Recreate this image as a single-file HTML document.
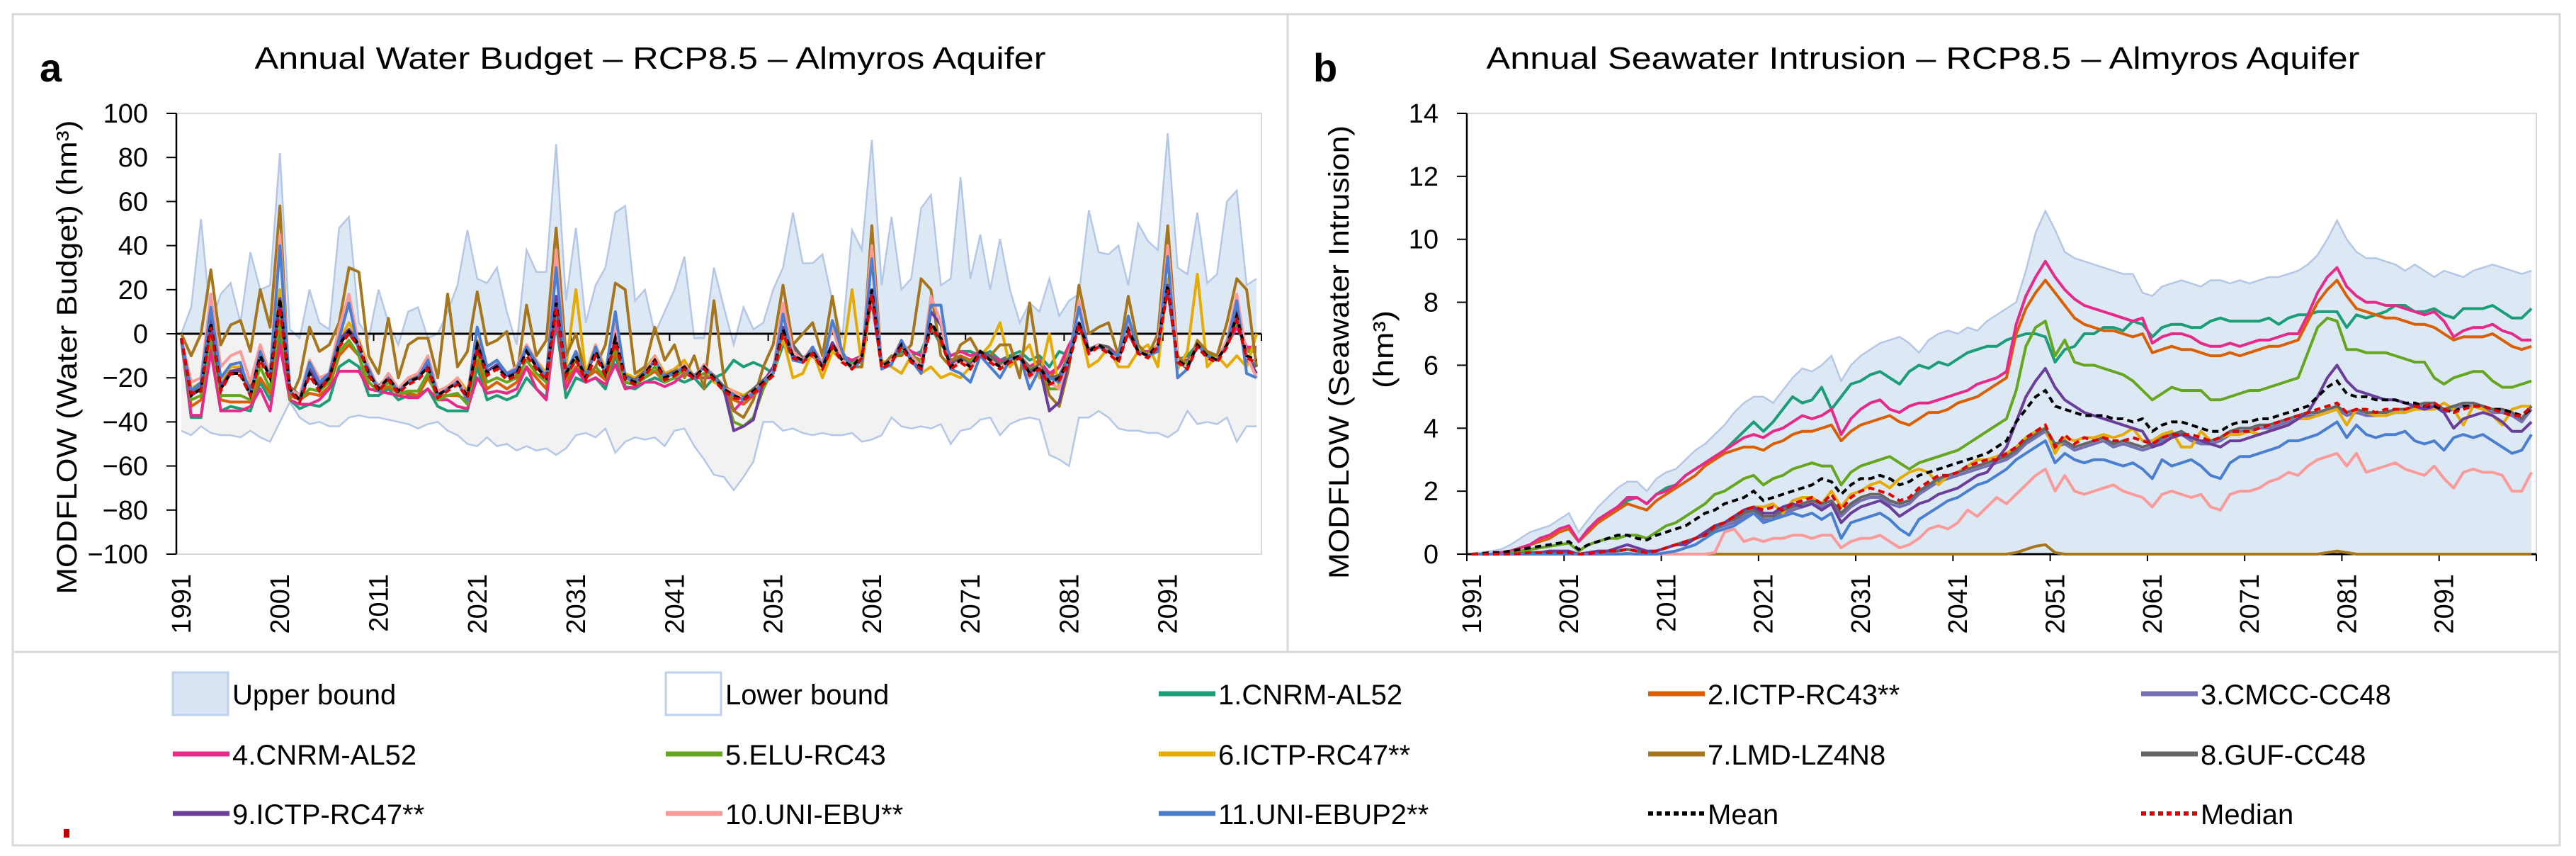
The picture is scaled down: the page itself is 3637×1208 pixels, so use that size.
<!DOCTYPE html>
<html><head><meta charset="utf-8"><title>Almyros Aquifer RCP8.5</title>
<style>html,body{margin:0;padding:0;background:#fff;}svg{display:block;}text{font-family:"Liberation Sans",sans-serif;fill:#000;}</style>
</head><body>
<svg id="fig" xmlns="http://www.w3.org/2000/svg" width="3637" height="1208" viewBox="0 0 3637 1208">
<rect x="0" y="0" width="3637" height="1208" fill="#fff"/>
<rect x="18" y="20" width="3596" height="1173" fill="none" stroke="#d9d9d9" stroke-width="3"/>
<line x1="1818" y1="20" x2="1818" y2="920" stroke="#d9d9d9" stroke-width="3"/>
<line x1="18" y1="920" x2="3614" y2="920" stroke="#d9d9d9" stroke-width="3"/>
<rect x="90" y="1170" width="8" height="12" fill="#c00000"/>
<g id="chartA"></g>
<g id="chartB"></g>
<g id="legend"></g>
</svg>
<script>
// ===== Chart A data: Annual Water Budget (hm3), 1991..2100 =====
const years = [];
for (let y = 1991; y <= 2100; y++) years.push(y);
const tickYears = [1991,2001,2011,2021,2031,2041,2051,2061,2071,2081,2091];
const yTicksA = [-100,-80,-60,-40,-20,0,20,40,60,80,100];
const yTicksB = [0,2,4,6,8,10,12,14];

const upperA = [0,12,52,5,18,23,5,37,20,22, 82,2,-2,20,5,2,48,53,5,-2, 20,5,-5,10,12,-2,0,10,22,47, 25,23,30,10,-5,38,28,28,86,15, 48,5,22,30,55,58,15,20,0,10, 20,35,-2,-2,30,12,-5,12,2,5, 20,30,55,32,32,36,15,-2,47,38, 88,22,53,20,25,57,63,22,25,71, 25,45,20,43,20,5,14,10,25,8, 15,18,56,37,36,40,22,50,42,38, 91,30,27,55,23,27,60,65,22,25];
const lowerA = [-44,-46,-42,-45,-46,-46,-47,-44,-47,-49, -40,-31,-38,-41,-40,-42,-42,-38,-37,-38, -38,-39,-40,-41,-43,-41,-40,-44,-46,-50, -51,-47,-51,-50,-53,-51,-53,-52,-55,-52, -46,-45,-47,-43,-54,-49,-47,-48,-47,-51, -44,-43,-51,-57,-64,-65,-71,-65,-58,-40, -40,-44,-43,-45,-46,-45,-46,-46,-45,-49, -48,-46,-38,-42,-43,-42,-43,-41,-50,-44, -43,-39,-38,-46,-41,-39,-38,-39,-55,-57, -60,-38,-38,-35,-38,-43,-44,-44,-45,-45, -47,-44,-35,-41,-40,-41,-38,-49,-42,-42];
const s1A = [-3,-38,-38,-5,-35,-33,-34,-35,-22,-30, 0,-30,-34,-32,-33,-30,-15,-12,-15,-28, -28,-25,-30,-28,-28,-25,-33,-35,-35,-35, -15,-30,-28,-30,-28,-20,-25,-29,5,-29, -20,-22,-20,-25,-10,-24,-25,-22,-20,-22, -20,-22,-20,-25,-20,-18,-12,-15,-13,-15, -18,-5,-10,-12,-10,-15,-8,-12,-13,-10, 15,-15,-12,-8,-10,-8,3,-5,-10,-8, -8,-10,-8,-12,-10,-8,-12,-10,-15,-8, -10,5,-8,-5,-8,-10,0,-8,-10,-5, 25,-12,-10,-5,-8,-10,-5,5,-8,-8];
const s2A = [-2,-33,-30,-2,-30,-31,-31,-31,-20,-27, 5,-28,-30,-27,-28,-24,-10,-5,-10,-25, -26,-24,-27,-27,-28,-20,-28,-28,-28,-30, -12,-25,-22,-25,-22,-15,-20,-25,10,-22, -15,-20,-17,-21,-8,-22,-23,-20,-17,-22, -20,-16,-20,-18,-20,-25,-30,-32,-28,-22, -17,0,-10,-12,-10,-15,-5,-12,-14,-10, 18,-15,-12,-6,-10,-12,3,-3,-12,-10, -12,-8,-10,-13,-12,-10,-16,-13,-20,-15, -8,4,-8,-5,-7,-10,1,-8,-9,-5, 22,-12,-13,-5,-9,-10,-5,5,-7,-7];
const s3A = [-2,-27,-23,5,-24,-17,-17,-26,-9,-19, 14,-24,-29,-17,-24,-19,-4,1,-6,-17, -24,-19,-25,-21,-19,-14,-27,-24,-21,-27, -5,-17,-14,-19,-17,-7,-14,-19,12,-17, -9,-19,-8,-17,-3,-19,-21,-17,-11,-19, -17,-15,-19,-15,-19,-24,-27,-29,-25,-21, -17,2,-6,-11,-8,-15,-5,-10,-16,-10, 19,-14,-12,-5,-12,-14,4,-2,-14,-11, -14,-8,-10,-14,-11,-10,-17,-14,-20,-19, -10,4,-7,-5,-6,-12,4,-8,-10,-5, 21,-12,-16,-5,-10,-12,-5,8,-12,-14];
const s4A = [-2,-37,-37,-8,-35,-35,-35,-33,-25,-35, -5,-30,-32,-32,-30,-25,-17,-17,-17,-25, -26,-27,-28,-29,-29,-25,-30,-30,-33,-34, -20,-27,-26,-27,-25,-15,-25,-30,8,-25, -16,-22,-20,-23,-14,-25,-24,-22,-22,-24, -22,-18,-20,-20,-20,-26,-35,-30,-28,-24, -15,-2,-10,-12,-10,-15,-5,-10,-12,-10, 15,-15,-12,-5,-8,-10,2,-2,-10,-8, -10,-8,-10,-12,-12,-10,-15,-12,-18,-15, -5,3,-7,-6,-6,-10,0,-8,-8,-6, 20,-12,-12,-6,-8,-10,-5,3,-6,-6];
const s5A = [-2,-30,-28,0,-28,-28,-28,-30,-15,-25, 8,-26,-30,-25,-26,-22,-8,-3,-10,-22, -26,-22,-27,-26,-26,-18,-30,-28,-27,-32, -8,-22,-20,-22,-20,-12,-18,-22,12,-20, -12,-20,-15,-20,-5,-22,-23,-20,-15,-22, -20,-16,-20,-18,-20,-26,-40,-42,-38,-25, -16,1,-10,-12,-9,-15,-5,-12,-14,-10, 18,-15,-12,-6,-10,-13,3,-3,-13,-11, -13,-8,-11,-14,-12,-10,-16,-14,-25,-25, -10,4,-8,-5,-8,-11,1,-8,-9,-5, 22,-12,-13,-5,-9,-11,-5,6,-8,-8];
const s6A = [-2,-25,-22,10,-22,-15,-15,-25,-8,-18, 20,-25,-28,-15,-22,-18,-3,5,-3,-15, -25,-18,-25,-20,-18,-12,-26,-24,-20,-26, -3,-15,-12,-18,-15,-5,-12,-18,15,-15, 20,-18,-5,-16,-2,-18,-20,-16,-10,-18, -16,-12,-20,-14,-22,-24,-26,-28,-25,-22, -18,-2,-20,-18,-8,-20,-8,-12,20,-15, 18,-12,-15,-18,-10,-18,-15,-20,-18,-20, -15,-10,-5,5,-15,-10,-5,-20,0,-25, -8,5,-15,-12,-6,-15,-15,-8,-5,-15, 25,-16,-8,27,-15,-10,-15,-10,-15,0];
const s7A = [0,-10,0,29,-5,4,6,-8,20,3, 58,-30,-20,3,-8,-5,5,30,28,-10, -18,7,-20,-5,-2,-2,-20,18,-15,-8, 19,-5,-3,1,-20,13,-10,-3,48,-10, 0,-20,-15,-5,23,20,-18,-15,3,-12, -5,-20,-10,-25,15,-20,-35,-38,-30,-15, -5,22,-5,0,5,-10,17,-10,-15,-15, 49,-15,-10,-10,-5,25,20,-10,-15,-5, -2,-10,-10,-5,-5,-20,14,-15,-28,-33, -15,22,0,3,5,-10,17,-5,-10,0, 49,-10,-15,-3,-8,-10,5,25,20,-15];
const s8A = [-2,-27,-22,4,-24,-17,-17,-25,-10,-19, 15,-24,-28,-17,-24,-19,-4,0,-6,-17, -24,-19,-25,-21,-19,-14,-27,-24,-21,-27, -5,-17,-14,-19,-17,-7,-14,-19,13,-17, -9,-19,-8,-17,-3,-19,-21,-17,-11,-19, -17,-15,-19,-15,-19,-24,-27,-29,-25,-21, -17,2,-5,-11,-8,-15,-5,-10,-16,-10, 20,-14,-12,-5,-12,-14,4,-2,-14,-11, -14,-8,-10,-14,-11,-10,-17,-14,-20,-19, -10,4,-7,-5,-6,-12,4,-8,-10,-5, 22,-12,-16,-5,-10,-12,-5,8,-12,-15];
const s9A = [-2,-28,-25,6,-24,-17,-16,-28,-8,-20, 16,-25,-30,-16,-24,-20,-3,2,-4,-18, -25,-19,-26,-22,-20,-14,-28,-25,-21,-28, -4,-17,-14,-19,-17,-6,-14,-20,17,-18, -8,-20,-7,-18,0,-20,-22,-18,-12,-20, -18,-14,-20,-14,-20,-25,-44,-42,-39,-22, -15,3,-10,-12,-6,-15,-4,-12,-15,-10, 20,-15,-12,-3,-12,-15,10,4,-14,-12, -15,-8,-12,-15,-12,-10,-18,-15,-35,-31, -12,5,-8,-5,-8,-12,2,-8,-10,-5, 22,-12,-15,-5,-10,-12,-3,12,-10,-18];
const s10A = [-2,-22,-20,18,-15,-10,-8,-22,-5,-18, 45,-25,-28,-12,-20,-18,3,18,-5,-15, -25,-18,-25,-20,-18,-10,-26,-24,-20,-28, 3,-15,-12,-18,-15,-5,-12,-20,38,-18, -8,-20,-5,-18,5,-20,-22,-18,-10,-20, -18,-14,-20,-14,-20,-25,-26,-30,-26,-22, -17,14,-8,-12,-6,-13,3,-12,-15,-10, 40,-15,-12,-3,-10,-15,17,5,-15,-12, -15,-10,-12,-15,-12,-10,-20,-15,-22,-25, -10,15,-8,-5,-8,-12,5,-8,-10,-5, 40,-12,-15,-5,-10,-12,-3,18,-10,-20];
const s11A = [-2,-26,-22,12,-20,-14,-13,-28,-8,-20, 40,-26,-30,-13,-22,-18,-2,14,-8,-16, -26,-20,-26,-22,-20,-12,-28,-25,-22,-30, 3,-15,-12,-18,-16,-6,-13,-20,30,-18, -8,-20,-6,-18,10,-20,-22,-18,-12,-20, -18,-15,-20,-15,-20,-25,-28,-30,-27,-22, -18,9,-12,-13,-6,-15,6,-8,-16,-12, 34,-16,-14,-3,-12,-18,13,13,-16,-18, -22,-10,-15,-20,-12,-10,-25,-16,-20,-22, -10,12,-8,-6,-8,-10,8,-8,-10,-8, 35,-20,-16,-5,-10,-12,-5,15,-18,-20];
const meanA = [-2,-28,-25,5,-25,-18,-18,-28,-10,-20, 16,-25,-30,-18,-25,-20,-5,1,-5,-18, -25,-20,-26,-22,-20,-15,-28,-25,-22,-28, -5,-18,-15,-20,-18,-8,-15,-20,14,-18, -10,-20,-8,-18,-2,-20,-22,-18,-12,-20, -18,-15,-20,-15,-20,-25,-28,-30,-26,-22, -18,2,-10,-12,-8,-15,-5,-12,-15,-10, 20,-15,-12,-5,-12,-15,5,-2,-15,-12, -15,-8,-12,-15,-12,-10,-18,-15,-22,-20, -12,5,-8,-5,-8,-12,2,-8,-10,-5, 22,-12,-15,-5,-10,-12,-5,8,-10,-12];
const medianA = [-2,-27,-26,3,-26,-18,-19,-28,-12,-21, 12,-26,-31,-19,-26,-20,-6,0,-6,-19, -26,-21,-27,-23,-21,-16,-29,-26,-23,-29, -7,-19,-16,-21,-19,-10,-16,-21,12,-19, -12,-21,-10,-19,-4,-21,-23,-19,-13,-21, -19,-16,-21,-16,-21,-26,-29,-30,-27,-23, -19,0,-11,-13,-9,-16,-6,-13,-16,-11, 18,-16,-13,-6,-13,-16,3,-3,-16,-13, -16,-9,-13,-16,-13,-11,-19,-16,-23,-21, -13,4,-9,-6,-9,-13,1,-9,-11,-6, 20,-13,-16,-6,-11,-13,-6,6,-11,-13];

// ===== Chart B data: Annual Seawater Intrusion (hm3) =====
const upperB = [0,0.05,0.1,0.15,0.3,0.5,0.7,0.8,0.9,1.1, 1.3,0.7,1.1,1.5,1.8,2.1,2.3,2.3,2.0,2.4, 2.6,2.7,3.0,3.3,3.5,3.8,4.1,4.5,4.8,5.0, 5.0,4.8,5.2,5.6,5.9,5.8,6.0,6.3,5.5,6.0, 6.3,6.5,6.7,6.8,6.9,6.7,6.4,6.8,7.0,7.1, 7.0,7.2,7.1,7.4,7.6,7.8,8.0,9.0,10.2,10.9, 10.3,9.6,9.4,9.3,9.2,9.1,9.0,8.9,8.9,8.3, 8.2,8.5,8.6,8.7,8.6,8.5,8.7,8.7,8.6,8.7, 8.6,8.7,8.8,8.8,8.9,9.0,9.2,9.5,10.0,10.6, 10.0,9.6,9.4,9.4,9.3,9.2,9.0,9.2,9.0,8.8, 9.0,8.9,8.8,9.0,9.1,9.2,9.1,9.0,8.9,9.0];
const lowerB = [0,0,0,0,0,0,0,0,0,0, 0,0,0,0,0,0,0,0,0,0, 0,0,0,0,0,0,0,0,0,0, 0,0,0,0,0,0,0,0,0,0, 0,0,0,0,0,0,0,0,0,0, 0,0,0,0,0,0,0,0,0,0, 0,0,0,0,0,0,0,0,0,0, 0,0,0,0,0,0,0,0,0,0, 0,0,0,0,0,0,0,0,0,0, 0,0,0,0,0,0,0,0,0,0, 0,0,0,0,0,0,0,0,0,0];
const s1B = [0,0,0,0.05,0.1,0.2,0.3,0.5,0.6,0.8, 0.9,0.4,0.8,1.1,1.3,1.5,1.7,1.8,1.6,1.9, 2.1,2.2,2.5,2.7,2.9,3.1,3.3,3.6,3.9,4.2, 3.9,4.2,4.6,5.0,4.8,4.9,5.3,4.6,5.0,5.4, 5.5,5.7,5.8,5.6,5.4,5.8,6.0,5.9,6.1,6.0, 6.2,6.4,6.5,6.6,6.6,6.8,6.9,7.0,7.0,6.9, 6.1,6.5,6.6,7.0,7.0,7.2,7.2,7.1,7.4,7.3, 6.9,7.2,7.3,7.3,7.2,7.2,7.4,7.5,7.4,7.4, 7.4,7.4,7.5,7.3,7.5,7.6,7.6,7.7,7.7,7.7, 7.2,7.6,7.5,7.6,7.7,7.9,7.9,7.7,7.7,7.8, 7.6,7.5,7.8,7.8,7.8,7.9,7.7,7.5,7.5,7.8];
const s2B = [0,0,0,0.05,0.1,0.2,0.3,0.4,0.5,0.7, 0.8,0.4,0.7,1.0,1.2,1.4,1.6,1.5,1.4,1.7, 1.9,2.1,2.3,2.5,2.8,3.0,3.2,3.3,3.4,3.4, 3.3,3.5,3.6,3.8,3.9,3.9,4.0,4.1,3.6,3.9, 4.1,4.2,4.3,4.4,4.2,4.1,4.3,4.5,4.5,4.6, 4.8,4.9,5.0,5.2,5.4,5.6,7.0,7.8,8.3,8.7, 8.3,7.9,7.5,7.3,7.2,7.1,7.1,7.0,6.9,7.0, 6.4,6.5,6.6,6.5,6.5,6.4,6.3,6.3,6.4,6.3, 6.4,6.5,6.6,6.6,6.7,6.8,7.4,8.0,8.4,8.7, 8.2,7.8,7.7,7.6,7.5,7.5,7.4,7.3,7.3,7.2, 7.0,6.8,6.9,6.9,6.9,7.0,6.8,6.6,6.5,6.6];
const s3B = [0,0,0,0,0,0.02,0.05,0.05,0.05,0.05, 0.05,0,0.02,0.05,0.1,0.1,0.15,0.1,0.05,0.1, 0.2,0.3,0.4,0.5,0.6,0.8,0.9,1.0,1.2,1.3, 1.1,1.1,1.3,1.4,1.5,1.6,1.5,1.6,1.2,1.5, 1.7,1.8,1.8,1.6,1.5,1.6,1.9,2.1,2.3,2.4, 2.5,2.6,2.7,2.8,2.9,3.0,3.2,3.5,3.7,3.9, 3.4,3.5,3.3,3.4,3.5,3.6,3.4,3.5,3.4,3.3, 3.4,3.6,3.7,3.8,3.6,3.5,3.5,3.6,3.8,3.9, 3.9,4.0,4.0,4.1,4.2,4.3,4.4,4.4,4.5,4.6, 4.4,4.5,4.4,4.4,4.4,4.5,4.5,4.6,4.7,4.7, 4.5,4.6,4.7,4.7,4.6,4.5,4.5,4.4,4.2,4.6];
const s4B = [0,0,0,0.05,0.1,0.2,0.3,0.5,0.6,0.8, 0.9,0.4,0.8,1.1,1.3,1.5,1.8,1.8,1.6,1.9, 2.0,2.2,2.5,2.7,2.9,3.1,3.3,3.5,3.7,3.8, 3.7,3.9,4.0,4.2,4.4,4.3,4.4,4.6,3.8,4.3, 4.6,4.8,4.9,4.6,4.5,4.7,4.8,4.8,4.9,5.0, 5.1,5.2,5.4,5.5,5.6,5.8,7.3,8.2,8.8,9.3, 8.8,8.4,8.1,7.9,7.8,7.7,7.6,7.5,7.4,7.5, 6.7,6.9,7.0,7.0,6.9,6.7,6.6,6.6,6.7,6.6, 6.7,6.8,6.8,6.9,7.0,7.0,7.6,8.3,8.8,9.1, 8.5,8.2,8.0,8.0,7.9,7.9,7.8,7.7,7.6,7.7, 7.4,6.9,7.1,7.2,7.2,7.3,7.1,7.0,6.8,6.8];
const s5B = [0,0,0,0,0.05,0.1,0.15,0.2,0.25,0.3, 0.35,0.1,0.3,0.4,0.5,0.5,0.6,0.6,0.5,0.7, 0.9,1.0,1.2,1.4,1.6,1.9,2.0,2.2,2.4,2.5, 2.2,2.4,2.5,2.7,2.8,2.9,2.8,2.8,2.2,2.6, 2.8,2.9,3.0,3.1,2.9,2.7,2.9,3.0,3.1,3.2, 3.3,3.5,3.7,3.9,4.1,4.3,5.2,6.6,7.2,7.4, 6.3,6.8,6.1,6.0,6.0,5.9,5.8,5.7,5.5,5.2, 4.9,5.1,5.3,5.2,5.2,5.2,4.9,4.9,5.0,5.1, 5.2,5.2,5.3,5.4,5.5,5.6,6.4,7.2,7.5,7.4, 6.5,6.5,6.4,6.4,6.4,6.3,6.2,6.1,6.1,5.6, 5.4,5.6,5.7,5.8,5.8,5.5,5.3,5.3,5.4,5.5];
const s6B = [0,0,0,0,0,0.02,0.05,0.05,0.05,0.05, 0.05,0,0.02,0.05,0.1,0.1,0.15,0.1,0.05,0.1, 0.2,0.3,0.4,0.5,0.6,0.9,1.0,1.2,1.4,1.5, 1.5,1.6,1.3,1.7,1.8,1.8,1.6,2.0,1.5,1.9, 2.0,2.2,2.3,2.1,2.4,2.6,2.7,2.6,2.2,2.5, 2.6,2.8,3.0,3.0,3.1,3.2,3.4,3.7,3.9,4.0, 3.2,3.7,3.6,3.7,3.7,3.8,3.7,3.8,4.0,3.6, 3.6,3.8,3.9,3.4,3.4,3.9,3.6,3.7,3.8,3.8, 3.9,3.8,3.9,4.0,4.1,4.3,4.3,4.4,4.5,4.6, 4.1,4.6,4.5,4.4,4.4,4.5,4.5,4.6,4.6,4.6, 4.8,4.6,4.1,4.7,4.6,4.4,4.1,4.6,4.7,4.7];
const s7B = [0,0,0,0,0,0,0,0,0,0, 0,0,0,0,0,0,0,0,0,0, 0,0,0,0,0,0,0,0,0,0, 0,0,0,0,0,0,0,0,0,0, 0,0,0,0,0,0,0,0,0,0, 0,0,0,0,0,0,0.05,0.15,0.25,0.3, 0.05,0,0,0,0,0,0,0,0,0, 0,0,0,0,0,0,0,0,0,0, 0,0,0,0,0,0,0,0,0.05,0.1, 0.05,0,0,0,0,0,0,0,0,0, 0,0,0,0,0,0,0,0,0,0];
const s8B = [0,0,0,0,0,0.02,0.05,0.05,0.05,0.05, 0.05,0,0.02,0.05,0.1,0.1,0.15,0.1,0.05,0.1, 0.2,0.3,0.4,0.5,0.6,0.8,1.0,1.1,1.3,1.4, 1.2,1.2,1.4,1.5,1.6,1.7,1.6,1.7,1.3,1.6, 1.8,1.9,1.9,1.7,1.6,1.7,2.0,2.2,2.4,2.5, 2.6,2.7,2.8,2.9,3.0,3.1,3.3,3.6,3.8,4.0, 3.5,3.6,3.4,3.5,3.6,3.7,3.5,3.6,3.5,3.4, 3.5,3.7,3.8,3.9,3.7,3.6,3.6,3.7,3.9,4.0, 4.0,4.1,4.1,4.2,4.3,4.4,4.5,4.5,4.6,4.7, 4.5,4.6,4.5,4.5,4.5,4.6,4.6,4.7,4.8,4.8, 4.6,4.7,4.8,4.8,4.7,4.6,4.6,4.5,4.3,4.7];
const s9B = [0,0,0,0,0,0,0,0.05,0.1,0.1, 0.1,0,0.05,0.1,0.1,0.2,0.3,0.2,0.1,0.1, 0.2,0.3,0.3,0.5,0.7,0.9,1.0,1.2,1.4,1.5, 1.3,1.3,1.5,1.6,1.5,1.6,1.4,1.6,1.0,1.3, 1.5,1.6,1.7,1.5,1.2,1.4,1.6,1.7,1.9,2.0, 2.1,2.3,2.5,2.6,3.0,3.4,4.2,5.0,5.5,5.9, 5.3,4.9,4.7,4.5,4.4,4.3,4.2,4.1,4.0,3.9, 3.4,3.5,3.7,3.8,3.7,3.6,3.5,3.4,3.6,3.6, 3.7,3.8,3.9,4.0,4.1,4.3,4.5,5.0,5.6,6.0, 5.5,5.2,5.1,5.0,4.9,4.9,4.8,4.7,4.6,4.7, 4.5,4.0,4.3,4.4,4.5,4.4,4.2,3.9,3.9,4.2];
const s10B = [0,0,0,0,0,0,0,0,0,0, 0,0,0,0,0,0,0,0,0,0, 0,0,0,0,0,0.05,0.7,0.8,0.4,0.5, 0.4,0.5,0.5,0.6,0.6,0.5,0.6,0.6,0.2,0.4, 0.5,0.5,0.6,0.4,0.2,0.3,0.5,0.8,0.9,0.8, 1.0,1.4,1.2,1.5,1.8,1.6,1.9,2.2,2.5,2.7, 2.0,2.5,2.0,1.9,2.0,2.1,2.2,2.0,1.9,1.8, 1.5,1.9,2.0,1.9,1.8,1.9,1.5,1.4,1.9,2.0, 2.0,2.1,2.3,2.4,2.6,2.5,2.8,3.0,3.1,3.2, 2.8,3.2,2.6,2.7,2.8,2.9,2.7,2.6,2.5,2.8, 2.4,2.1,2.6,2.7,2.6,2.6,2.5,2.0,2.0,2.6];
const s11B = [0,0,0,0,0,0,0,0,0,0, 0,0,0,0,0,0,0.02,0,0,0, 0.05,0.1,0.2,0.3,0.5,0.7,0.8,0.9,1.1,1.3, 1.0,1.1,1.2,1.3,1.2,1.3,1.1,1.3,0.5,1.0, 1.1,1.2,1.3,1.1,0.8,0.6,1.1,1.3,1.5,1.7, 1.8,2.0,2.2,2.3,2.5,2.7,3.0,3.2,3.4,3.6, 2.9,3.2,3.0,2.9,3.0,3.0,2.9,2.8,2.9,2.7, 2.4,3.0,2.8,2.9,3.0,2.8,2.5,2.4,2.9,3.1, 3.1,3.2,3.3,3.4,3.6,3.6,3.7,3.8,4.0,4.2, 3.7,4.1,3.8,3.7,3.8,3.8,3.9,3.6,3.5,3.6, 3.3,3.7,3.8,3.7,3.8,3.6,3.4,3.2,3.3,3.8];
const meanB = [0,0.02,0.05,0.05,0.1,0.15,0.2,0.25,0.3,0.35, 0.4,0.15,0.3,0.4,0.5,0.6,0.6,0.5,0.45,0.6, 0.7,0.8,0.9,1.1,1.3,1.4,1.6,1.7,1.8,2.0, 1.7,1.8,1.9,2.0,2.1,2.2,2.4,2.3,1.9,2.2, 2.4,2.4,2.5,2.4,2.2,2.3,2.5,2.6,2.7,2.8, 2.9,3.0,3.1,3.2,3.4,3.6,4.2,4.6,5.0,5.2, 4.7,4.6,4.5,4.4,4.4,4.4,4.3,4.3,4.2,4.3, 3.9,4.1,4.2,4.2,4.1,4.0,3.9,3.9,4.1,4.2, 4.2,4.3,4.3,4.4,4.5,4.6,4.7,5.0,5.3,5.5, 5.1,5.0,5.0,4.9,4.9,4.9,4.8,4.8,4.7,4.7, 4.6,4.5,4.7,4.7,4.7,4.6,4.6,4.5,4.4,4.6];
const medianB = [0,0,0,0,0,0.02,0.05,0.05,0.05,0.05, 0.05,0,0.02,0.05,0.1,0.1,0.15,0.1,0.05,0.1, 0.2,0.3,0.4,0.5,0.6,0.9,1.0,1.2,1.4,1.5, 1.4,1.5,1.4,1.6,1.7,1.8,1.6,1.9,1.4,1.8, 2.0,2.1,2.0,1.9,1.7,1.8,2.1,2.3,2.5,2.5, 2.6,2.8,2.9,3.0,3.0,3.2,3.4,3.7,3.9,4.1, 3.4,3.8,3.5,3.7,3.6,3.7,3.6,3.6,3.7,3.6, 3.5,3.7,3.8,3.8,3.8,3.7,3.6,3.7,3.9,3.9, 3.9,4.0,4.1,4.2,4.3,4.4,4.5,4.6,4.7,4.8, 4.5,4.6,4.6,4.5,4.6,4.6,4.6,4.7,4.7,4.8, 4.6,4.5,4.6,4.7,4.7,4.6,4.5,4.4,4.4,4.7];

const seriesNames = ['1.CNRM-AL52','2.ICTP-RC43**','3.CMCC-CC48','4.CNRM-AL52','5.ELU-RC43','6.ICTP-RC47**','7.LMD-LZ4N8','8.GUF-CC48','9.ICTP-RC47**','10.UNI-EBU**','11.UNI-EBUP2**'];
const seriesColors = ['#1b9e77','#d95f02','#7570b3','#e7298a','#66a61e','#e6ab02','#a6761d','#666666','#6a3d9a','#fb9a99','#4a7fd0'];
const seriesA = [s1A,s2A,s3A,s4A,s5A,s6A,s7A,s8A,s9A,s10A,s11A];
const seriesB = [s1B,s2B,s3B,s4B,s5B,s6B,s7B,s8B,s9B,s10B,s11B];

const NS = 'http://www.w3.org/2000/svg';
function mk(tag, attrs, parent) {
  const e = document.createElementNS(NS, tag);
  for (const k in attrs) e.setAttribute(k, attrs[k]);
  parent.appendChild(e);
  return e;
}
function txt(str, attrs, parent) {
  const e = mk('text', attrs, parent);
  e.textContent = str;
  return e;
}

function drawChart(g, cfg) {
  const n = years.length;
  const bw = (cfg.right - cfg.left) / n;
  const x = i => cfg.left + (i + 0.5) * bw;
  const y = v => cfg.bottom - (v - cfg.ymin) / (cfg.ymax - cfg.ymin) * (cfg.bottom - cfg.top);
  const y0 = y(0);
  // plot area border
  const pa = mk('rect', {x: cfg.left, y: cfg.top, width: cfg.right - cfg.left, height: cfg.bottom - cfg.top, fill: 'none', stroke: '#d9d9d9', 'stroke-width': 2}, g);
  
  
  // area helper
  function areaPath(arr) {
    let d = 'M' + x(0) + ',' + y0;
    arr.forEach((v, i) => { d += ' L' + x(i).toFixed(1) + ',' + y(v).toFixed(1); });
    d += ' L' + x(n - 1) + ',' + y0 + ' Z';
    return d;
  }
  function linePath(arr) {
    return arr.map((v, i) => (i ? 'L' : 'M') + x(i).toFixed(1) + ',' + y(v).toFixed(1)).join(' ');
  }
  const lowArea = mk('path', {d: areaPath(cfg.lower), fill: '#f2f2f2', stroke: 'none'}, g);
  
  
  const upArea = mk('path', {d: areaPath(cfg.upper), fill: '#dde8f5', stroke: 'none'}, g);
  
  
  const upLine = mk('path', {d: linePath(cfg.upper), fill: 'none', stroke: '#b4c7e7', 'stroke-width': 2.5}, g);
  
  
  const lowLine = mk('path', {d: linePath(cfg.lower), fill: 'none', stroke: '#b4c7e7', 'stroke-width': 2.5}, g);
  
  
  // zero / category axis
  const ax = mk('line', {x1: cfg.left, y1: y0, x2: cfg.right, y2: y0, stroke: '#000', 'stroke-width': 3}, g);
  
  
  tickYears.forEach(ty => {
    const i = years.indexOf(ty);
    const tx = cfg.left + i * bw;
    const t = mk('line', {x1: tx, y1: y0, x2: tx, y2: y0 + 10, stroke: '#000', 'stroke-width': 2}, g);
    
    
    const lb = txt(String(ty), {x: 0, y: 0, 'font-size': 38, 'text-anchor': 'end', transform: 'translate(' + (x(i) + 13).toFixed(1) + ',' + (cfg.bottom + 28) + ') rotate(-90)'}, g);
    
    
  });
  const te = mk('line', {x1: cfg.right, y1: y0, x2: cfg.right, y2: y0 + 10, stroke: '#000', 'stroke-width': 2}, g);
  
  
  // y axis
  const ya = mk('line', {x1: cfg.left, y1: cfg.top, x2: cfg.left, y2: cfg.bottom, stroke: '#000', 'stroke-width': 2.5}, g);
  
  
  cfg.yticks.forEach(v => {
    const t = mk('line', {x1: cfg.left - 14, y1: y(v), x2: cfg.left, y2: y(v), stroke: '#000', 'stroke-width': 2}, g);
    
    
    const lb = txt(String(v).replace('-', '\u2212'), {x: cfg.left - 40, y: y(v) + 13, 'font-size': 38, 'text-anchor': 'end'}, g);
    
    
  });
  // series
  cfg.series.forEach((arr, k) => {
    const p = mk('path', {d: linePath(arr), fill: 'none', stroke: seriesColors[k], 'stroke-width': 4, 'stroke-linejoin': 'round'}, g);
    
    
  });
  const mp = mk('path', {d: linePath(cfg.mean), fill: 'none', stroke: '#000', 'stroke-width': 4, 'stroke-dasharray': '9,6'}, g);
  
  
  const md = mk('path', {d: linePath(cfg.median), fill: 'none', stroke: '#e00000', 'stroke-width': 4, 'stroke-dasharray': '9,6'}, g);
  
  
}

const gA = document.getElementById('chartA');
const tA = txt('Annual Water Budget \u2013 RCP8.5 \u2013 Almyros Aquifer', {x: 918, y: 97, 'font-size': 44, 'text-anchor': 'middle', textLength: 1117, lengthAdjust: 'spacingAndGlyphs'}, gA);


const pA = txt('a', {x: 56, y: 115, 'font-size': 56, 'font-weight': 'bold'}, gA);


const ytA = txt('MODFLOW (Water Budget) (hm\u00b3)', {x: 0, y: 0, 'font-size': 40, 'text-anchor': 'middle', textLength: 669, lengthAdjust: 'spacingAndGlyphs', transform: 'translate(108,504) rotate(-90)'}, gA);


drawChart(gA, {left: 249, right: 1781, top: 160, bottom: 782, ymin: -100, ymax: 100, yticks: yTicksA, upper: upperA, lower: lowerA, series: seriesA, mean: meanA, median: medianA});

const gB = document.getElementById('chartB');
const tB = txt('Annual Seawater Intrusion \u2013 RCP8.5 \u2013 Almyros Aquifer', {x: 2715, y: 97, 'font-size': 44, 'text-anchor': 'middle', textLength: 1233, lengthAdjust: 'spacingAndGlyphs'}, gB);


const pB = txt('b', {x: 1854, y: 115, 'font-size': 56, 'font-weight': 'bold'}, gB);


const ytB = txt('MODFLOW (Seawater Intrusion)', {x: 0, y: 0, 'font-size': 40, 'text-anchor': 'middle', textLength: 640, lengthAdjust: 'spacingAndGlyphs', transform: 'translate(1904,497) rotate(-90)'}, gB);


const ytB2 = txt('(hm\u00b3)', {x: 0, y: 0, 'font-size': 40, 'text-anchor': 'middle', textLength: 110, lengthAdjust: 'spacingAndGlyphs', transform: 'translate(1967,493) rotate(-90)'}, gB);


drawChart(gB, {left: 2071, right: 3581, top: 160, bottom: 782, ymin: 0, ymax: 14, yticks: yTicksB, upper: upperB, lower: lowerB, series: seriesB, mean: meanB, median: medianB});

// ===== Legend =====
const lg = document.getElementById('legend');
const legendItems = [{label: 'Upper bound', kind: 'upper'}, {label: 'Lower bound', kind: 'lower'}];
seriesNames.forEach((nm, k) => legendItems.push({label: nm, kind: 'line', color: seriesColors[k]}));
legendItems.push({label: 'Mean', kind: 'dash', color: '#000'});
legendItems.push({label: 'Median', kind: 'dash', color: '#e00000'});
const colX = [244, 940, 1636, 2327, 3023];
const rowY = [979, 1064, 1148];
legendItems.forEach((it, idx) => {
  const cx = colX[idx % 5], cy = rowY[Math.floor(idx / 5)];
  const eg = mk('g', {}, lg);
  
  
  if (it.kind === 'upper') {
    mk('rect', {x: cx, y: cy - 30, width: 78, height: 60, fill: '#dae3f3', stroke: '#bdd0ec', 'stroke-width': 3}, eg);
  } else if (it.kind === 'lower') {
    mk('rect', {x: cx, y: cy - 30, width: 78, height: 60, fill: '#fff', stroke: '#bdd0ec', 'stroke-width': 3}, eg);
  } else if (it.kind === 'line') {
    mk('line', {x1: cx, y1: cy, x2: cx + 80, y2: cy, stroke: it.color, 'stroke-width': 7}, eg);
  } else {
    mk('line', {x1: cx, y1: cy, x2: cx + 80, y2: cy, stroke: it.color, 'stroke-width': 6, 'stroke-dasharray': '7,5'}, eg);
  }
  const t = txt(it.label, {x: cx + 84, y: cy + 15, 'font-size': 40}, eg);
  
  
});
</script>
</body></html>
